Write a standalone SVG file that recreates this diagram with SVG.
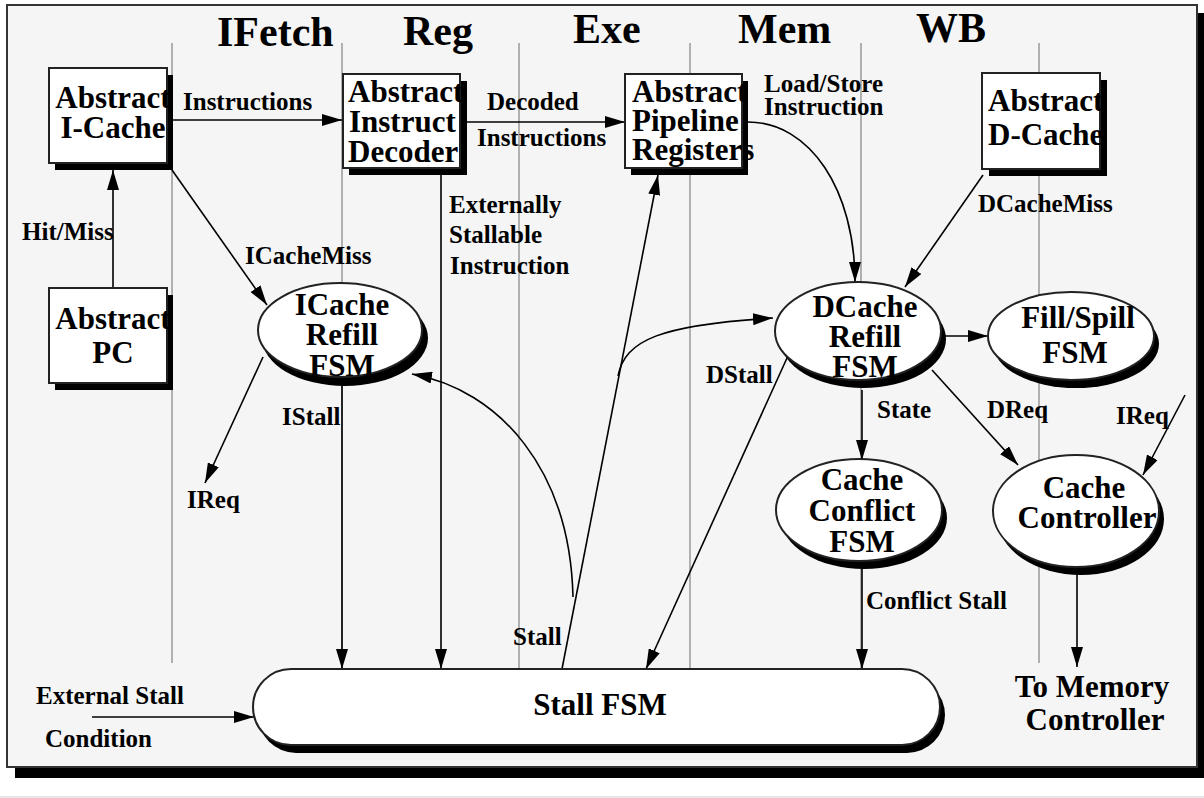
<svg xmlns="http://www.w3.org/2000/svg" width="1204" height="798" viewBox="0 0 1204 798">
  <style>
    .lane { stroke: #999; stroke-width: 1.5; fill: none; }
    .box { fill: #fff; stroke: #222; stroke-width: 2; }
    .shadow { fill: #000; stroke: none; }
    .node { font-family: "Liberation Serif", "Times New Roman", serif; font-weight: bold; font-size: 31px; fill: #000; }
    .stage { font-family: "Liberation Serif", "Times New Roman", serif; font-weight: bold; font-size: 42px; fill: #000; }
    .lbl { font-family: "Liberation Serif", "Times New Roman", serif; font-weight: bold; font-size: 25px; fill: #000; }
    .edge { stroke: #000; stroke-width: 1.6; fill: none; }
    .mid { text-anchor: middle; }
  </style>
  <defs>
    <marker id="ah" markerWidth="20" markerHeight="12" refX="20" refY="6" orient="auto" markerUnits="userSpaceOnUse">
      <path d="M0,0 L20,6 L0,12 z" fill="#000"/>
    </marker>
  </defs>

  <!-- page and frame -->
  <rect x="0" y="0" width="1204" height="798" fill="#fff"/>
  <rect x="0" y="796" width="1204" height="2" fill="#e6e6e6"/>
  <rect x="15" y="13" width="1189" height="765" class="shadow"/>
  <rect x="7" y="5" width="1190" height="762" fill="#f5f5f5" stroke="#333" stroke-width="2"/>

  <!-- pipeline stage titles -->
  <g id="stages">
    <text class="stage" x="217" y="46">IFetch</text>
    <text class="stage" x="403" y="45">Reg</text>
    <text class="stage" x="573" y="43">Exe</text>
    <text class="stage" x="738" y="43">Mem</text>
    <text class="stage" x="916" y="42">WB</text>
  </g>

  <!-- stage boundaries -->
  <g id="lanes">
    <line class="lane" x1="172" y1="43" x2="172" y2="663"/>
    <line class="lane" x1="342" y1="43" x2="342" y2="669"/>
    <line class="lane" x1="519" y1="43" x2="519" y2="669"/>
    <line class="lane" x1="690" y1="43" x2="690" y2="669"/>
    <line class="lane" x1="861" y1="43" x2="861" y2="669"/>
    <line class="lane" x1="1039" y1="43" x2="1039" y2="663"/>
  </g>

  <!-- connectors -->
  <g id="connectors">
    <path class="edge" d="M173,120 H342" marker-end="url(#ah)"/>
    <path class="edge" d="M467,122 H625" marker-end="url(#ah)"/>
    <path class="edge" d="M113,288 V170" marker-end="url(#ah)"/>
    <path class="edge" d="M172,170 L267,305" marker-end="url(#ah)"/>
    <path class="edge" d="M263,357 L205,483" marker-end="url(#ah)"/>
    <path class="edge" d="M342,385 V669" marker-end="url(#ah)"/>
    <path class="edge" d="M441,175 V669" marker-end="url(#ah)"/>
    <path class="edge" d="M562,669 L658,175" marker-end="url(#ah)"/>
    <path class="edge" d="M618,376 C625,340 660,325 773,318" marker-end="url(#ah)"/>
    <path class="edge" d="M573,597 C570,470 500,390 412,374" marker-end="url(#ah)"/>
    <path class="edge" d="M748,122 C810,122 855,190 855,282" marker-end="url(#ah)"/>
    <path class="edge" d="M983,175 L905,287" marker-end="url(#ah)"/>
    <path class="edge" d="M945,336 H988" marker-end="url(#ah)"/>
    <path class="edge" d="M862,390 V460" marker-end="url(#ah)"/>
    <path class="edge" d="M932,370 L1018,465" marker-end="url(#ah)"/>
    <path class="edge" d="M1185,395 L1143,475" marker-end="url(#ah)"/>
    <path class="edge" d="M787,358 L646,669" marker-end="url(#ah)"/>
    <path class="edge" d="M862,567 V669" marker-end="url(#ah)"/>
    <path class="edge" d="M1077,573 V667" marker-end="url(#ah)"/>
    <path class="edge" d="M92,717 H254" marker-end="url(#ah)"/>
  </g>

  <!-- rectangular blocks -->
  <g id="icache">
    <rect class="shadow" x="55" y="75" width="118" height="95"/>
    <rect class="box" x="49" y="68" width="118" height="95"/>
    <text class="node mid" x="113" y="108">Abstract</text>
    <text class="node mid" x="113" y="138">I-Cache</text>
  </g>
  <g id="pc">
    <rect class="shadow" x="55" y="295" width="118" height="95"/>
    <rect class="box" x="49" y="288" width="118" height="95"/>
    <text class="node mid" x="113" y="329">Abstract</text>
    <text class="node mid" x="113" y="363">PC</text>
  </g>
  <g id="decoder">
    <rect class="shadow" x="349" y="81" width="118" height="94"/>
    <rect class="box" x="343" y="74" width="117" height="94"/>
    <text class="node" x="348" y="102">Abstract</text>
    <text class="node" x="349" y="132">Instruct</text>
    <text class="node" x="348" y="162">Decoder</text>
  </g>
  <g id="pipeline-registers">
    <rect class="shadow" x="631" y="81" width="117" height="94"/>
    <rect class="box" x="625" y="74" width="117" height="94"/>
    <text class="node" x="632" y="102">Abstract</text>
    <text class="node" x="632" y="131">Pipeline</text>
    <text class="node" x="632" y="160">Registers</text>
  </g>
  <g id="dcache">
    <rect class="shadow" x="989" y="80" width="118" height="96"/>
    <rect class="box" x="982" y="73" width="118" height="96"/>
    <text class="node" x="988" y="111">Abstract</text>
    <text class="node" x="988" y="145">D-Cache</text>
  </g>

  <!-- state machines -->
  <g id="icache-refill-fsm">
    <ellipse class="shadow" cx="345" cy="338" rx="83" ry="48"/>
    <ellipse class="box" cx="340" cy="330" rx="82" ry="47"/>
    <text class="node mid" x="342" y="315">ICache</text>
    <text class="node mid" x="342" y="345">Refill</text>
    <text class="node mid" x="342" y="376">FSM</text>
  </g>
  <g id="dcache-refill-fsm">
    <ellipse class="shadow" cx="863" cy="339" rx="83" ry="49"/>
    <ellipse class="box" cx="858" cy="331" rx="83" ry="49"/>
    <text class="node mid" x="865" y="317">DCache</text>
    <text class="node mid" x="865" y="347">Refill</text>
    <text class="node mid" x="865" y="377">FSM</text>
  </g>
  <g id="fill-spill-fsm">
    <ellipse class="shadow" cx="1076" cy="344" rx="83" ry="44"/>
    <ellipse class="box" cx="1071" cy="336" rx="83" ry="44"/>
    <text class="node mid" x="1078" y="328">Fill/Spill</text>
    <text class="node mid" x="1075" y="363">FSM</text>
  </g>
  <g id="cache-conflict-fsm">
    <ellipse class="shadow" cx="864" cy="518" rx="83" ry="51"/>
    <ellipse class="box" cx="859" cy="510" rx="83" ry="51"/>
    <text class="node mid" x="862" y="490">Cache</text>
    <text class="node mid" x="862" y="521">Conflict</text>
    <text class="node mid" x="862" y="552">FSM</text>
  </g>
  <g id="cache-controller">
    <ellipse class="shadow" cx="1081" cy="519" rx="83" ry="56"/>
    <ellipse class="box" cx="1076" cy="511" rx="83" ry="56"/>
    <text class="node mid" x="1084" y="498">Cache</text>
    <text class="node mid" x="1087" y="528">Controller</text>
  </g>
  <g id="stall-fsm">
    <rect class="shadow" x="258" y="677" width="687" height="76" rx="38" ry="38"/>
    <rect class="box" x="253" y="669" width="687" height="76" rx="38" ry="38"/>
    <text class="node mid" x="600" y="715">Stall FSM</text>
  </g>

  <!-- connector labels -->
  <g id="labels">
    <text class="lbl" x="183" y="110">Instructions</text>
    <text class="lbl" x="22" y="240">Hit/Miss</text>
    <text class="lbl" x="487" y="110">Decoded</text>
    <text class="lbl" x="477" y="146">Instructions</text>
    <text class="lbl" x="764" y="92">Load/Store</text>
    <text class="lbl" x="764" y="115">Instruction</text>
    <text class="lbl" x="449" y="213">Externally</text>
    <text class="lbl" x="449" y="243">Stallable</text>
    <text class="lbl" x="450" y="274">Instruction</text>
    <text class="lbl" x="245" y="264">ICacheMiss</text>
    <text class="lbl" x="978" y="212">DCacheMiss</text>
    <text class="lbl" x="282" y="425">IStall</text>
    <text class="lbl" x="187" y="508">IReq</text>
    <text class="lbl" x="706" y="383">DStall</text>
    <text class="lbl" x="877" y="418">State</text>
    <text class="lbl" x="987" y="418">DReq</text>
    <text class="lbl" x="1116" y="424">IReq</text>
    <text class="lbl" x="866" y="609">Conflict Stall</text>
    <text class="lbl" x="513" y="645">Stall</text>
    <text class="lbl" x="36" y="704">External Stall</text>
    <text class="lbl" x="45" y="747">Condition</text>
    <text class="node mid" x="1092" y="697">To Memory</text>
    <text class="node mid" x="1095" y="730">Controller</text>
  </g>
</svg>
